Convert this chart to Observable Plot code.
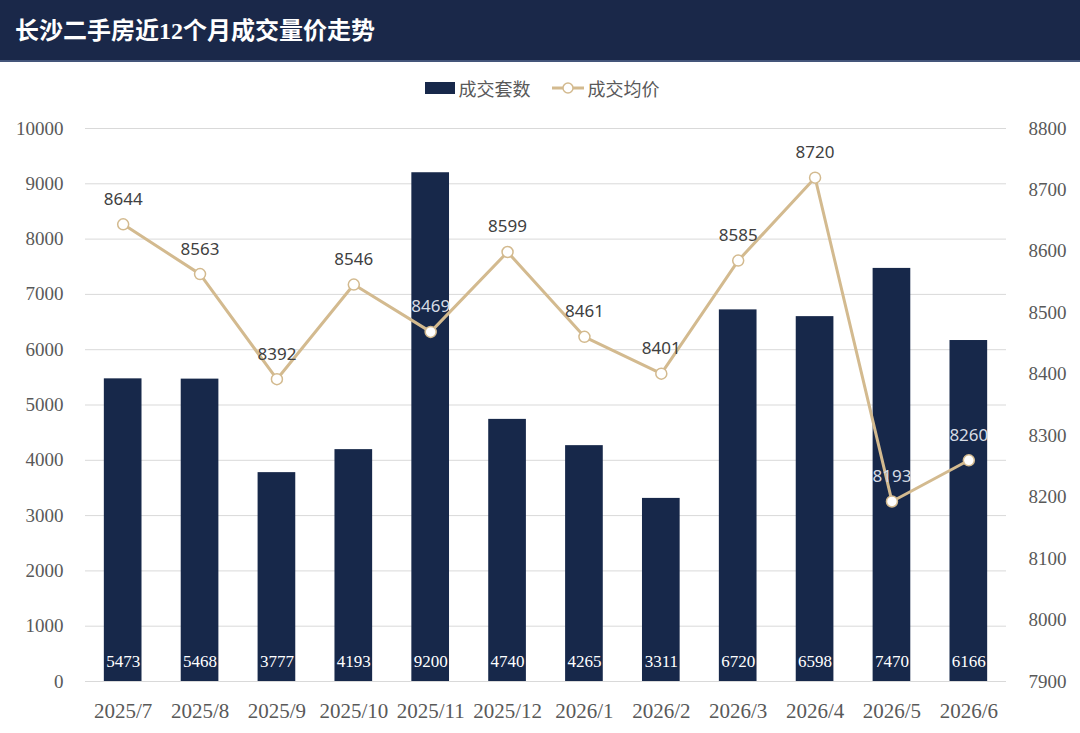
<!DOCTYPE html>
<html>
<head>
<meta charset="utf-8">
<script src="https://cdn.jsdelivr.net/npm/d3@7"></script>
<script src="https://cdn.jsdelivr.net/npm/@observablehq/plot@0.6"></script>
<style>
  html, body { margin: 0; padding: 0; background: #ffffff; }
  body { width: 1080px; height: 733px; overflow: hidden; font-family: "Liberation Serif", "Noto Sans CJK SC", serif; }
  #title {
    height: 60px; background: #1a2849; border-bottom: 2px solid #44557a;
    color: #ffffff; font-weight: bold; font-size: 24px; line-height: 62px;
    padding-left: 15px; box-sizing: content-box;
    font-family: "Liberation Serif", "Noto Sans CJK SC", serif;
  }
  #legend {
    height: 52px; display: flex; justify-content: center; align-items: center;
    padding-left: 4px; box-sizing: border-box;
    font-family: "Noto Sans CJK SC", sans-serif; font-size: 18px; color: #595959;
  }
  .item { display: flex; align-items: center; margin: 0 10px; }
  .sw { width: 30px; height: 12px; background: #17284a; margin-right: 4px; }
</style>
</head>
<body>
<div id="title">长沙二手房近12个月成交量价走势</div>
<div id="legend"></div>
<div id="chart"></div>
<script>
const months = ["2025/7","2025/8","2025/9","2025/10","2025/11","2025/12","2026/1","2026/2","2026/3","2026/4","2026/5","2026/6"];
const counts = [5473, 5468, 3777, 4193, 9200, 4740, 4265, 3311, 6720, 6598, 7470, 6166];
const prices = [8644, 8563, 8392, 8546, 8469, 8599, 8461, 8401, 8585, 8720, 8193, 8260];
const countTicks = [0,1000,2000,3000,4000,5000,6000,7000,8000,9000,10000];
const priceTicks = [7900,8000,8100,8200,8300,8400,8500,8600,8700,8800];
const seriesNames = ["成交套数", "成交均价"];

const countMax = 10000, priceMin = 7900, priceMax = 8800;
const toLeft = p => (p - priceMin) / (priceMax - priceMin) * countMax;
const toPrice = v => Math.round(priceMin + v / countMax * (priceMax - priceMin));

const barColor = "#17284a";
const lineColor = "#d3ba8f";

const data = months.map((m, i) => ({month: m, count: counts[i], price: prices[i], pv: toLeft(prices[i])}));

// legend
const legend = document.getElementById("legend");
legend.innerHTML = `
  <div class="item"><div class="sw"></div><span>${seriesNames[0]}</span></div>
  <div class="item"><svg width="34" height="14" style="margin-right:3px"><line x1="1" y1="7" x2="33" y2="7" stroke="${lineColor}" stroke-width="3"/><circle cx="17" cy="7" r="5" fill="white" stroke="${lineColor}" stroke-width="1.5"/></svg><span>${seriesNames[1]}</span></div>`;

const chart = Plot.plot({
  width: 1080,
  height: 619,
  marginTop: 14,
  marginBottom: 52,
  marginLeft: 85,
  marginRight: 74,
  style: {fontFamily: "'Liberation Serif', 'Noto Sans CJK SC', serif", color: "#595959", background: "white", overflow: "visible"},
  x: {domain: months, paddingInner: 0.51, paddingOuter: 0.245, round: false, label: null},
  y: {domain: [0, countMax], label: null},
  marks: [
    Plot.gridY(countTicks, {stroke: "#d9d9d9", strokeOpacity: 1, strokeWidth: 1}),
    Plot.barY(data, {x: "month", y: "count", fill: barColor}),
    Plot.text(data, {x: "month", y: 0, text: d => String(d.count), dy: -20, fill: "white", fontSize: 17}),
    Plot.line(data, {x: "month", y: "pv", stroke: lineColor, strokeWidth: 3}),
    Plot.dot(data, {x: "month", y: "pv", r: 5.5, fill: "white", stroke: lineColor, strokeWidth: 1.5}),
    Plot.text(data, {x: "month", y: "pv", text: d => String(d.price), dy: -25,
      fill: d => (d.count > d.pv + 250 ? "#d6dbe4" : "#404040"),
      fontSize: 17, fontFamily: "'Noto Sans', sans-serif"}),
    Plot.axisY(countTicks, {anchor: "left", tickSize: 0, tickPadding: 22, tickFormat: d => String(d), fontSize: 19, label: null}),
    Plot.axisY(priceTicks.map(toLeft), {anchor: "right", tickSize: 0, tickPadding: 22, tickFormat: v => String(toPrice(v)), fontSize: 19, label: null}),
    Plot.axisX({tickSize: 0, tickPadding: 22, fontSize: 21, label: null})
  ]
});
document.getElementById("chart").appendChild(chart);
</script>
</body>
</html>
